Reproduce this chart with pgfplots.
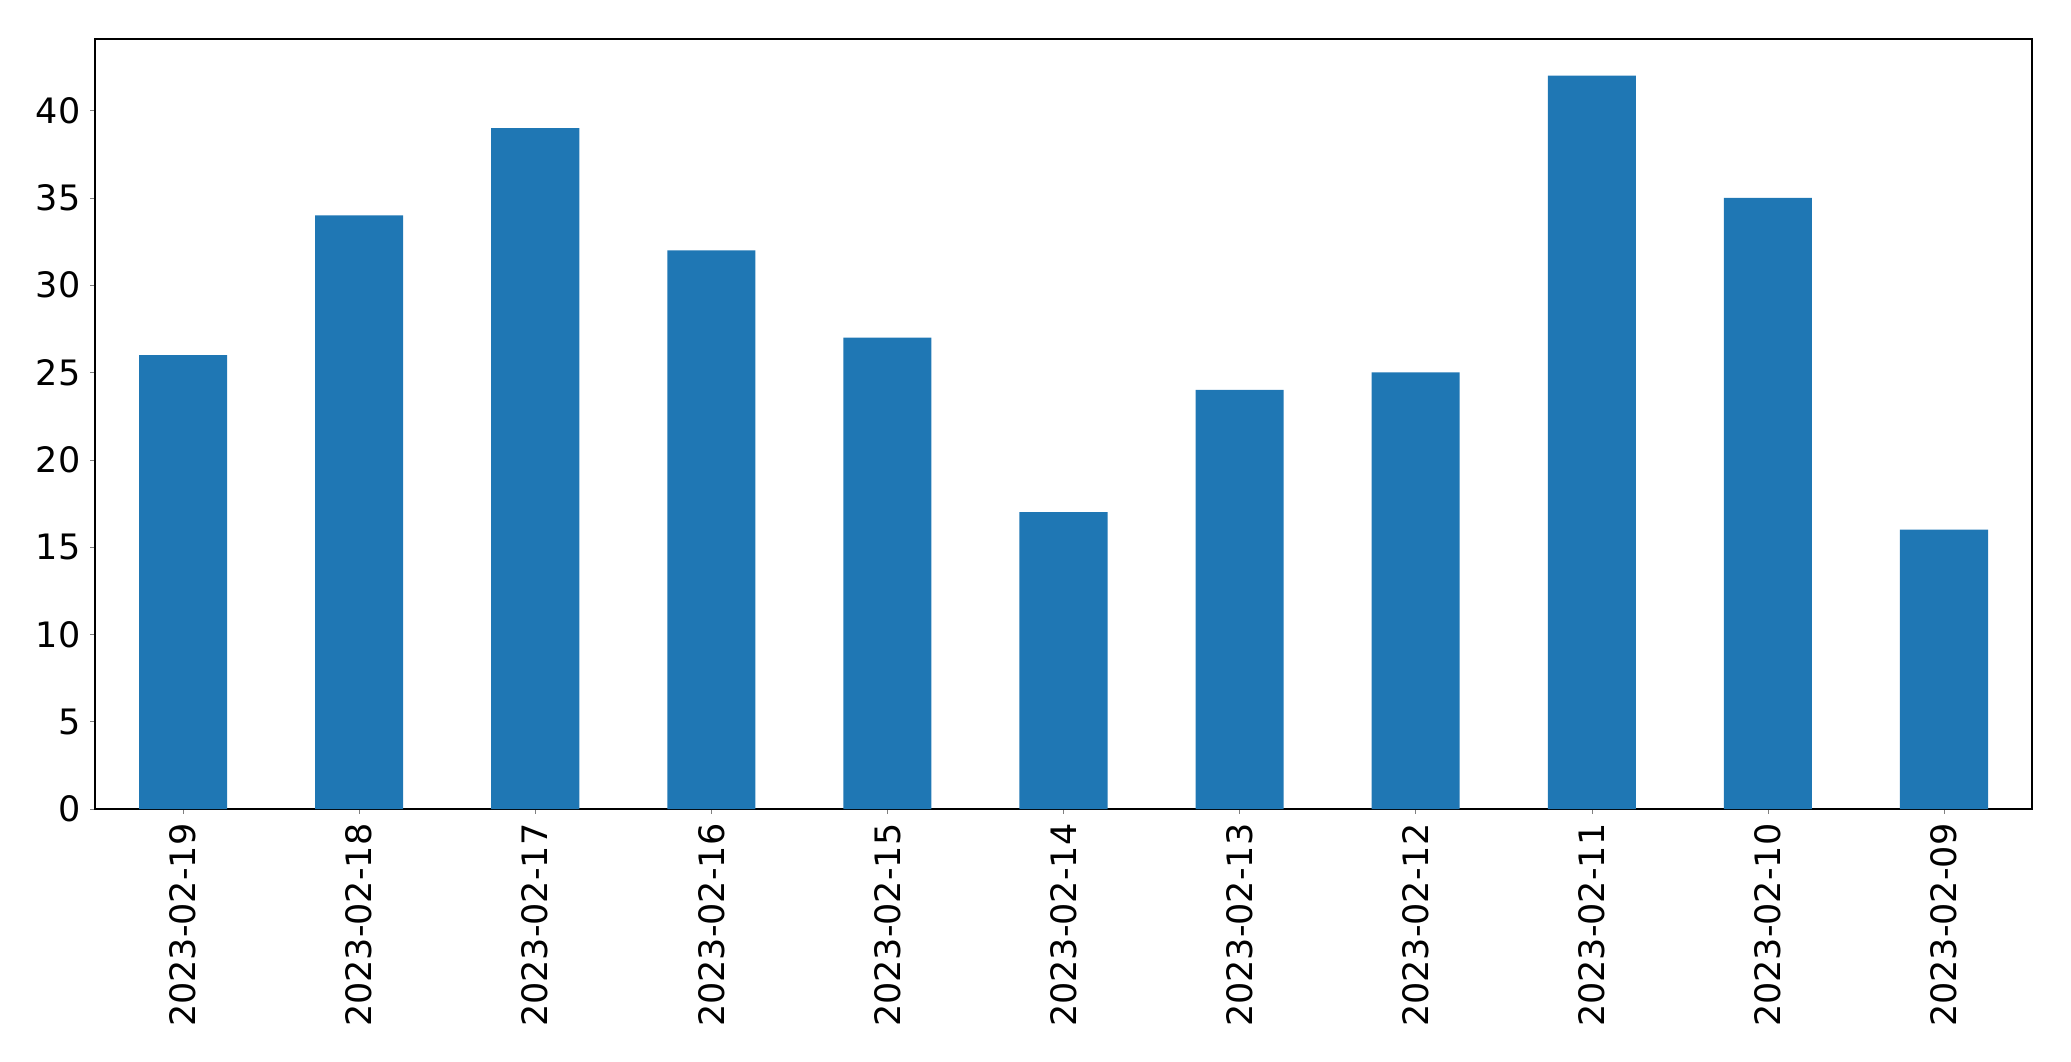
\documentclass[border=0pt]{standalone}
\usepackage{fontspec}
\setmainfont{DejaVu Sans}
\usepackage{pgfplots}
\pgfplotsset{compat=1.18}
\definecolor{barblue}{HTML}{1F77B4}
\begin{document}
\begin{tikzpicture}
  \begin{axis}[
    name=ax,
    at={(0,0)}, anchor=south west,
    scale only axis,
    width=697.3pt,
    height=277.2pt,
    xmin=-0.5, xmax=10.5,
    ymin=0, ymax=44.1,
    ytick={0,5,...,40},
    xtick={0,...,10},
    xticklabels={2023-02-19,2023-02-18,2023-02-17,2023-02-16,2023-02-15,2023-02-14,2023-02-13,2023-02-12,2023-02-11,2023-02-10,2023-02-09},
    xticklabel style={rotate=90, anchor=east},
    tick label style={font=\fontsize{12.6pt}{14pt}\selectfont},
    /pgf/number format/assume math mode=true,
    tick align=outside,
    major tick length=1.7pt,
    xtick pos=bottom, ytick pos=left,
    axis line style={line width=0.4pt},
    ybar, bar width=0.5,
  ]
    % values
    \addplot[fill=barblue, draw=none] coordinates {
      (0,26) (1,34) (2,39) (3,32) (4,27) (5,17)
      (6,24) (7,25) (8,42) (9,35) (10,16)
    };
  \end{axis}
  \pgfresetboundingbox
  \path (ax.south west) ++(-34.2pt,-90.72pt) coordinate (bl);
  \path (ax.north east) ++(14.04pt,14.04pt) coordinate (tr);
  \path (bl) rectangle (tr);
\end{tikzpicture}
\end{document}
